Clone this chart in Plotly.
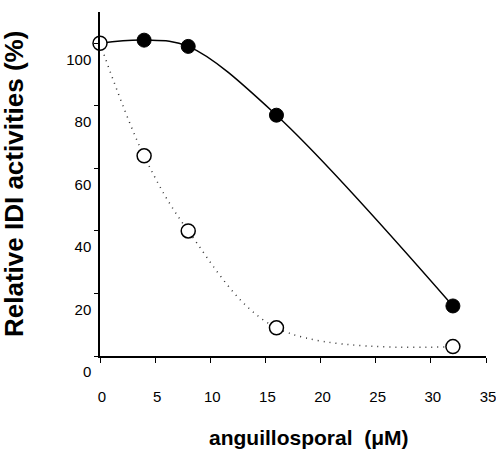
import plotly.graph_objects as go

# Data
x_conc = [0, 4, 8, 16, 32]
filled_y = [100, 101, 99, 77, 16]   # solid line, filled circles
open_y = [100, 64, 40, 9, 3]        # dotted line, open circles
x_ticks = [0, 5, 10, 15, 20, 25, 30, 35]
y_ticks = [0, 20, 40, 60, 80, 100]

FONT = "Liberation Sans, Arial, sans-serif"

fig = go.Figure()

fig.add_trace(go.Scatter(
    x=x_conc, y=filled_y, mode="lines",
    line=dict(color="black", width=1.5, shape="spline", smoothing=1.0),
    showlegend=False, hoverinfo="skip", cliponaxis=False))
fig.add_trace(go.Scatter(
    x=x_conc, y=open_y, mode="lines",
    line=dict(color="#333333", width=1.5, dash="1px,5px", shape="spline", smoothing=1.0),
    showlegend=False, hoverinfo="skip", cliponaxis=False))
fig.add_trace(go.Scatter(
    x=x_conc[1:], y=filled_y[1:], mode="markers",
    marker=dict(symbol="circle", size=14, color="black", line=dict(color="black", width=1)),
    showlegend=False, cliponaxis=False))
fig.add_trace(go.Scatter(
    x=x_conc, y=open_y, mode="markers",
    marker=dict(symbol="circle", size=14, color="white", line=dict(color="black", width=1.5)),
    showlegend=False, cliponaxis=False))

fig.update_layout(
    width=496, height=450, autosize=False,
    margin=dict(l=100, r=10, t=12, b=94),
    paper_bgcolor="white", plot_bgcolor="white",
    font=dict(family=FONT, size=15, color="black"),
    xaxis=dict(
        range=[0, 35], tickvals=x_ticks, ticktext=[str(v) for v in x_ticks],
        automargin=False, ticklabeloverflow="allow",
        showline=True, linecolor="black", linewidth=1.5,
        ticks="outside", ticklen=5, tickcolor="black", tickwidth=1.2,
        showgrid=False, zeroline=False,
        ticklabelstandoff=21, ticklabelshift=2,
        tickfont=dict(size=15),
    ),
    yaxis=dict(
        range=[0, 110], tickvals=y_ticks, ticktext=[str(v) for v in y_ticks],
        automargin=False, ticklabeloverflow="allow",
        showline=True, linecolor="black", linewidth=1.5,
        ticks="outside", ticklen=4, tickcolor="black", tickwidth=1.2,
        showgrid=False, zeroline=False,
        ticklabelstandoff=0, ticklabelshift=16,
        tickfont=dict(size=15),
    ),
    annotations=[
        dict(
            text="<b>anguillosporal&nbsp; (μM)</b>", xref="paper", yref="paper",
            x=0.5415, y=0, xanchor="center", yanchor="middle", yshift=-81,
            showarrow=False, font=dict(size=21, family=FONT, color="black"),
        ),
        dict(
            text="<b>Relative IDI activities (%)</b>", xref="paper", yref="paper",
            x=0, y=0.5, xanchor="center", yanchor="middle", xshift=-86,
            textangle=-90, showarrow=False,
            font=dict(size=26, family=FONT, color="black"),
        ),
    ],
)

# Remove the browser's default body margin so the figure fills the window exactly.
fig.write_html("out.html", config={"displayModeBar": False},
               post_script="document.body.style.margin='0';")
